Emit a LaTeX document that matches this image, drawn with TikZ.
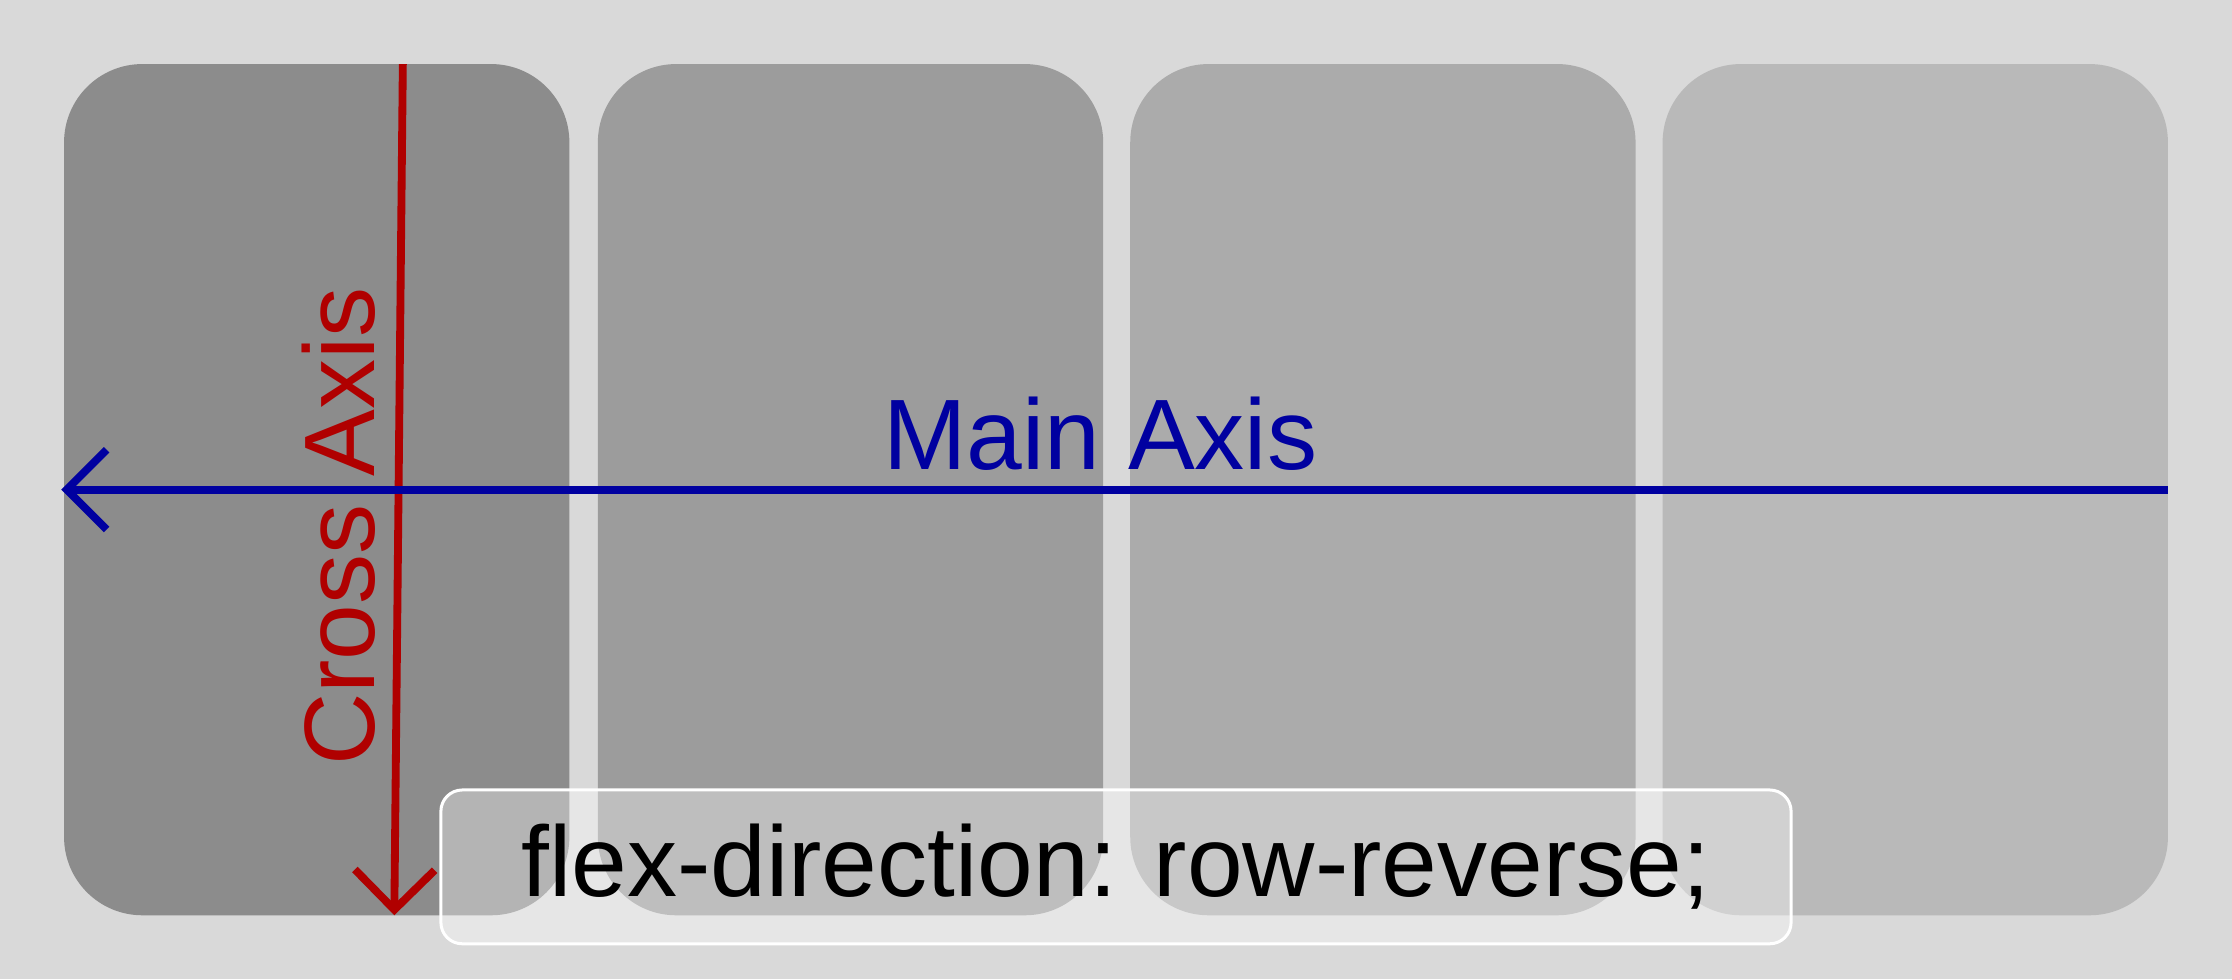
\documentclass[tikz,border=0pt]{standalone}
\usepackage{fontspec}
\setmainfont{Liberation Sans}
\usetikzlibrary{arrows.meta}
\definecolor{bg}{HTML}{D9D9D9}
\definecolor{b1}{HTML}{8C8C8C}
\definecolor{b2}{HTML}{9C9C9C}
\definecolor{b3}{HTML}{ABABAB}
\definecolor{b4}{HTML}{B9B9B9}
\definecolor{axred}{HTML}{B00000}
\definecolor{axblue}{HTML}{0000A0}
\tikzset{item/.style={rounded corners=0.55cm},
 axis/.style={line width=0.055cm,-{Straight Barb[length=0.28cm,width=0.56cm,line width=0.055cm]}}}
\begin{document}
\begin{tikzpicture}[x=0.01cm,y=-0.01cm]
\fill[bg] (0,0) rectangle (1568,688);
\useasboundingbox (0,0) rectangle (1568,688);
\fill[b1,item] (45,45) rectangle (400,643);
\fill[b2,item] (420,45) rectangle (775,643);
\fill[b3,item] (794,45) rectangle (1149,643);
\fill[b4,item] (1168,45) rectangle (1523,643);
\coordinate (rt) at (283,45); \coordinate (rb) at (277,643);
\coordinate (bl) at (43,344); \coordinate (br) at (1523,344);
\node[text=axred,font=\fontsize{20}{24}\selectfont,rotate=90] (cross) at (238,370) {Cross Axis};
\draw[axis,axred] (rt) -- (rb);
\draw[axis,axblue] (br) -- (bl);
\node[text=axblue,font=\fontsize{20}{24}\selectfont] (main) at (773,305) {Main Axis};
\node[draw=white,line width=0.6pt,fill=white,fill opacity=0.35,text opacity=1,rounded corners=0.15cm,minimum width=9.48cm,minimum height=1.08cm,font=\fontsize{20}{24}\selectfont] (lab) at (784,609) {flex-direction: row-reverse;};
\end{tikzpicture}
\end{document}
